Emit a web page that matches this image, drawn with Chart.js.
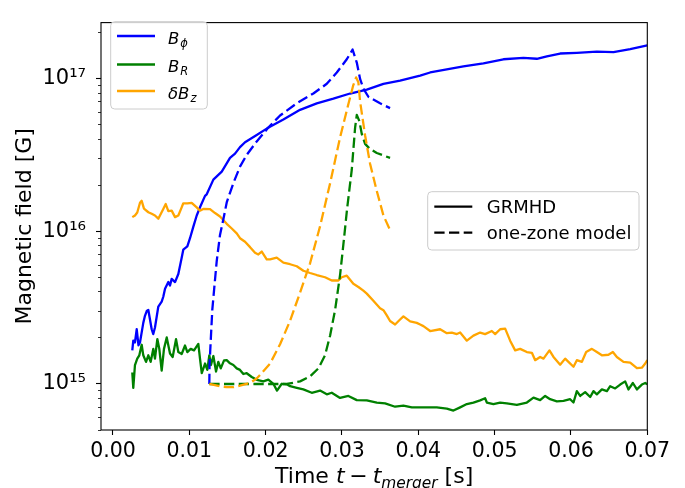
<!DOCTYPE html>
<html>
<head>
<meta charset="utf-8">
<script src="https://cdn.jsdelivr.net/npm/chart.js@4.4.1/dist/chart.umd.min.js"></script>
<style>
html,body{margin:0;padding:0;background:#fff;overflow:hidden}
#wrap{position:relative;width:685px;height:488px}
</style>
</head>
<body>
<div id="wrap"><canvas id="c" width="685" height="488"></canvas></div>
<script>
// ---------------- data ----------------
// GRMHD B_phi (solid blue)
const phiT = [0.00253,0.00266,0.00288,0.00311,0.00334,0.00354,0.00397,0.00419,0.00442,0.00463,0.00507,0.00528,0.00550,0.00594,0.00638,0.00659,0.00682,0.00725,0.00747,0.00769,0.00813,0.00856,0.00900,0.00921,0.00974,0.01009,0.01052,0.01097,0.01140,0.01206,0.01228,0.01315,0.01425,0.01490,0.01533,0.01599,0.01664,0.01730,0.01883,0.02014,0.02232,0.02451,0.02670,0.02887,0.03106,0.03325,0.03543,0.03761,0.04024,0.04155,0.04591,0.04853,0.05115,0.05377,0.05553,0.05684,0.05858,0.06077,0.06339,0.06557,0.06776,0.07000];
const phiB = [1.66e15,1.92e15,1.87e15,2.28e15,1.79e15,1.87e15,2.51e15,2.79e15,3.00e15,3.05e15,2.28e15,2.12e15,2.34e15,3.21e15,3.46e15,3.72e15,4.20e15,4.64e15,4.41e15,4.87e15,4.64e15,5.24e15,6.70e15,7.56e15,7.94e15,8.98e15,1.065e16,1.265e16,1.43e16,1.70e16,1.74e16,2.17e16,2.45e16,2.77e16,3.01e16,3.21e16,3.54e16,3.81e16,4.25e16,4.68e16,5.36e16,6.21e16,6.85e16,7.35e16,7.94e16,8.42e16,9.19e16,9.65e16,1.039e17,1.09e17,1.193e17,1.252e17,1.33e17,1.36e17,1.34e17,1.39e17,1.45e17,1.466e17,1.49e17,1.48e17,1.55e17,1.64e17];

// GRMHD B_R (solid green)
const rT = [0.00253,0.00266,0.00288,0.00318,0.00345,0.00376,0.00397,0.00433,0.00463,0.00494,0.00528,0.00550,0.00581,0.00607,0.00638,0.00668,0.00704,0.00747,0.00782,0.00826,0.00856,0.00900,0.00944,0.00974,0.01018,0.01062,0.01118,0.01140,0.01163,0.01206,0.01236,0.01262,0.01284,0.01315,0.01350,0.01380,0.01412,0.01455,0.01490,0.01533,0.01577,0.01621,0.01664,0.01708,0.01752,0.01818,0.01883,0.01970,0.02035,0.02101,0.02149,0.02211,0.02277,0.02320,0.02408,0.02494,0.02604,0.02713,0.02801,0.02866,0.02975,0.03084,0.03194,0.03325,0.03456,0.03565,0.03696,0.03805,0.03915,0.04067,0.04242,0.04374,0.04460,0.04548,0.04636,0.04722,0.04810,0.04875,0.04898,0.04984,0.05072,0.05160,0.05291,0.05422,0.05509,0.05596,0.05662,0.05727,0.05815,0.05902,0.05989,0.06033,0.06077,0.06121,0.06186,0.06252,0.06295,0.06339,0.06405,0.06471,0.06514,0.06579,0.06645,0.06710,0.06754,0.06811,0.06864,0.06929,0.06973,0.07000];
const rB = [1.188e15,9.43e14,1.33e15,1.465e15,1.54e15,1.805e15,1.54e15,1.396e15,1.54e15,1.396e15,1.697e15,1.465e15,1.966e15,1.697e15,1.223e15,1.697e15,2.016e15,1.581e15,1.502e15,1.966e15,1.617e15,1.57e15,1.784e15,1.617e15,1.697e15,1.658e15,1.827e15,1.465e15,1.176e15,1.361e15,1.236e15,1.54e15,1.33e15,1.524e15,1.205e15,1.396e15,1.265e15,1.427e15,1.431e15,1.365e15,1.33e15,1.265e15,1.236e15,1.162e15,1.176e15,1.111e15,1.064e15,1.04e15,1.067e15,1.003e15,9.05e14,1.003e15,9.96e14,9.67e14,9.43e14,9.21e14,8.76e14,9.05e14,8.56e14,8.76e14,8.10e14,8.35e14,7.84e14,7.81e14,7.56e14,7.47e14,7.10e14,7.21e14,7.03e14,7.03e14,7.03e14,6.90e14,6.70e14,7.03e14,7.39e14,7.56e14,7.81e14,8.07e14,7.56e14,7.39e14,7.56e14,7.47e14,7.31e14,7.56e14,8.14e14,7.84e14,8.35e14,7.95e14,7.70e14,7.76e14,7.95e14,7.56e14,8.98e14,8.35e14,8.85e14,8.22e14,8.98e14,8.56e14,9.21e14,8.98e14,9.67e14,9.35e14,9.91e14,1.04e15,9.21e14,1.015e15,9.21e14,9.91e14,1.015e15,9.96e14];

// GRMHD delta B_z (solid orange)
const zT = [0.00253,0.00288,0.00318,0.00354,0.00376,0.00406,0.00463,0.00507,0.00550,0.00594,0.00659,0.00691,0.00725,0.00769,0.00813,0.00856,0.00900,0.00921,0.00974,0.01031,0.01097,0.01140,0.01183,0.01271,0.01337,0.01402,0.01490,0.01556,0.01621,0.01664,0.01730,0.01796,0.01861,0.01904,0.01949,0.02014,0.02058,0.02145,0.02232,0.02320,0.02408,0.02494,0.02582,0.02670,0.02778,0.02866,0.02953,0.02997,0.03063,0.03106,0.03149,0.03215,0.03280,0.03325,0.03411,0.03499,0.03543,0.03587,0.03630,0.03696,0.03761,0.03805,0.03893,0.03980,0.04024,0.04067,0.04155,0.04286,0.04374,0.04439,0.04505,0.04548,0.04636,0.04722,0.04810,0.04875,0.04963,0.05007,0.05072,0.05138,0.05203,0.05269,0.05334,0.05422,0.05488,0.05531,0.05596,0.05640,0.05718,0.05771,0.05858,0.05924,0.05967,0.06033,0.06077,0.06143,0.06199,0.06274,0.06339,0.06405,0.06491,0.06549,0.06601,0.06688,0.06776,0.06864,0.06929,0.06973,0.07000];
const zB = [1.234e16,1.265e16,1.322e16,1.531e16,1.577e16,1.402e16,1.328e16,1.297e16,1.265e16,1.205e16,1.396e16,1.502e16,1.351e16,1.361e16,1.234e16,1.265e16,1.429e16,1.52e16,1.52e16,1.531e16,1.429e16,1.361e16,1.396e16,1.392e16,1.312e16,1.247e16,1.116e16,1.04e16,9.67e15,8.98e15,8.51e15,7.85e15,7.21e15,7.03e15,7.35e15,6.53e15,6.53e15,6.70e15,6.22e15,6.07e15,5.89e15,5.50e15,5.32e15,5.16e15,4.99e15,4.75e15,4.75e15,4.99e15,5.11e15,4.80e15,4.52e15,4.31e15,4.08e15,3.90e15,3.50e15,3.13e15,3.04e15,2.81e15,2.58e15,2.45e15,2.64e15,2.77e15,2.57e15,2.51e15,2.45e15,2.39e15,2.22e15,2.28e15,2.15e15,2.17e15,2.12e15,2.17e15,1.92e15,2.07e15,2.17e15,2.12e15,2.22e15,2.12e15,2.28e15,2.30e15,1.92e15,1.658e15,1.697e15,1.617e15,1.60e15,1.431e15,1.502e15,1.465e15,1.658e15,1.502e15,1.336e15,1.465e15,1.396e15,1.297e15,1.431e15,1.396e15,1.617e15,1.697e15,1.617e15,1.54e15,1.553e15,1.617e15,1.502e15,1.396e15,1.381e15,1.269e15,1.278e15,1.361e15,1.431e15];

// one-zone model B_phi (dashed blue)
const mPhiT = [0.01262,0.01265,0.01284,0.01301,0.01328,0.01359,0.01402,0.01446,0.01490,0.01533,0.01577,0.01664,0.01752,0.01883,0.02035,0.02189,0.02408,0.02625,0.02801,0.02932,0.03063,0.03139,0.03194,0.03237,0.03280,0.03346,0.03499,0.03630];
const mPhiB = [1.0e15,1.336e15,2.08e15,3.05e15,4.31e15,6.37e15,9.43e15,1.193e16,1.54e16,1.78e16,2.06e16,2.64e16,3.15e16,3.86e16,4.75e16,5.70e16,6.85e16,7.94e16,9.19e16,1.09e17,1.33e17,1.54e17,1.265e17,9.9e16,8.55e16,7.56e16,6.85e16,6.37e16];

// one-zone model B_R (dashed green)
const mRT = [0.01262,0.02277,0.02451,0.02582,0.02691,0.02778,0.02844,0.02910,0.02975,0.03018,0.03067,0.03128,0.03172,0.03194,0.03228,0.03260,0.03303,0.03368,0.03456,0.03630];
const mRB = [1.0e15,1.0e15,1.04e15,1.12e15,1.265e15,1.54e15,2.07e15,3.05e15,5.16e15,8.14e15,1.40e16,2.51e16,4.75e16,5.75e16,5.24e16,4.30e16,3.72e16,3.44e16,3.24e16,3.01e16];

// one-zone model delta B_z (dashed orange)
const mZT = [0.01262,0.01402,0.01490,0.01577,0.01664,0.01796,0.01883,0.01927,0.02058,0.02189,0.02320,0.02451,0.02582,0.02713,0.02844,0.02975,0.03080,0.03146,0.03185,0.03215,0.03237,0.03303,0.03368,0.03456,0.03543,0.03630];
const mZB = [1.0e15,9.67e14,9.53e14,9.53e14,9.74e14,1.015e15,1.087e15,1.148e15,1.36e15,1.82e15,2.59e15,3.96e15,6.16e15,1.076e16,2.05e16,4.10e16,6.66e16,8.93e16,1.012e17,9.4e16,7.06e16,4.22e16,2.76e16,1.83e16,1.265e16,1.015e16];

// axes
const xRange = [-0.00157, 0.07];
const yRange = [5e14, 2.31e17];
const xTickValues = [0.00,0.01,0.02,0.03,0.04,0.05,0.06,0.07];
const yMajorTicks = [1e15, 1e16, 1e17];
const yMajorLabels = ['10\u00B9\u2075', '10\u00B9\u2076', '10\u00B9\u2077'];
const yMinorTicks = [5e14,6e14,7e14,8e14,9e14,2e15,3e15,4e15,5e15,6e15,7e15,8e15,9e15,2e16,3e16,4e16,5e16,6e16,7e16,8e16,9e16,2e17];
const yTitle = 'Magnetic field [G]';

// legends
const compMain = ['B', 'B', '\u03B4B'];
const compSub = ['\u03D5', 'R', 'z'];
const modelLabels = ['GRMHD', 'one-zone model'];
const compColors = ['#0000ff', '#008000', '#ffa500'];

// ---------------- chart ----------------
const FAM = "'DejaVu Sans'";
Chart.defaults.font.family = FAM;
Chart.defaults.color = '#000';

const toPts = (t, b) => t.map((v, i) => ({x: v, y: b[i]}));
const DASH = [10.3, 4.4];
const LW = 2.3;
function ds(t, b, color, dashed) {
  return {data: toPts(t, b), borderColor: color, backgroundColor: color, borderWidth: LW,
    borderDash: dashed ? DASH : [], pointRadius: 0, fill: false, tension: 0,
    borderJoinStyle: 'round', borderCapStyle: 'butt'};
}
const datasets = [
  ds(phiT, phiB, compColors[0], false),
  ds(rT, rB, compColors[1], false),
  ds(zT, zB, compColors[2], false),
  ds(mPhiT, mPhiB, compColors[0], true),
  ds(mRT, mRB, compColors[1], true),
  ds(mZT, mZB, compColors[2], true)
];
datasets.forEach((d, i) => { d.order = datasets.length - i; });

function roundRect(ctx, x, y, w, h, r) {
  ctx.beginPath();
  ctx.moveTo(x + r, y);
  ctx.lineTo(x + w - r, y); ctx.arcTo(x + w, y, x + w, y + r, r);
  ctx.lineTo(x + w, y + h - r); ctx.arcTo(x + w, y + h, x + w - r, y + h, r);
  ctx.lineTo(x + r, y + h); ctx.arcTo(x, y + h, x, y + h - r, r);
  ctx.lineTo(x, y + r); ctx.arcTo(x, y, x + r, y, r);
  ctx.closePath();
}

const decor = {
  id: 'decor',
  afterDatasetsDraw(chart) {
    const {ctx, chartArea: a} = chart;
    ctx.save();
    ctx.strokeStyle = '#000';
    ctx.lineWidth = 1.1;
    ctx.strokeRect(a.left, a.top, a.right - a.left, a.bottom - a.top);
    ctx.restore();
  },
  afterDraw(chart) {
    const {ctx, chartArea: a} = chart;
    ctx.save();
    ctx.fillStyle = '#000';
    ctx.textBaseline = 'alphabetic';
    ctx.textAlign = 'left';

    // ---- x axis title: Time t − t_merger [s]
    const F = 22;
    const segs = [
      {text: 'Time ', font: `${F}px ${FAM}`},
      {text: 't', font: `italic ${F}px ${FAM}`, gap: 0.22 * F},
      {text: '\u2212', font: `${F}px ${FAM}`, gap: 0.22 * F},
      {text: 't', font: `italic ${F}px ${FAM}`},
      {text: 'merger', font: `italic ${(F * 0.7).toFixed(1)}px ${FAM}`, dy: 5},
      {text: ' [s]', font: `${F}px ${FAM}`}
    ];
    let total = 0;
    segs.forEach(s => { ctx.font = s.font; s.w = ctx.measureText(s.text).width + (s.gap || 0); total += s.w; });
    let x = (a.left + a.right) / 2 - total / 2;
    const base = a.bottom + 53;
    segs.forEach(s => { ctx.font = s.font; ctx.fillText(s.text, x, base + (s.dy || 0)); x += s.w; });

    // ---- legend 1 (components)
    ctx.fillStyle = 'rgba(255,255,255,0.8)';
    ctx.strokeStyle = '#cccccc';
    ctx.lineWidth = 1;
    roundRect(ctx, 110.7, 21.7, 96.6, 87.3, 4);
    ctx.fill(); ctx.stroke();
    const rowY = [36, 64.5, 91];
    const rowBase = [44, 72.3, 98.6];
    const FL = 16.5;
    for (let i = 0; i < 3; i++) {
      ctx.strokeStyle = compColors[i];
      ctx.lineWidth = LW;
      ctx.setLineDash([]);
      ctx.beginPath(); ctx.moveTo(117, rowY[i]); ctx.lineTo(155, rowY[i]); ctx.stroke();
      ctx.fillStyle = '#000';
      ctx.font = `italic ${FL}px ${FAM}`;
      ctx.fillText(compMain[i], 168, rowBase[i]);
      const w = ctx.measureText(compMain[i]).width;
      ctx.font = `italic ${(FL * 0.7).toFixed(1)}px ${FAM}`;
      ctx.fillText(compSub[i], 168 + w + 1, rowBase[i] + 3);
    }

    // ---- legend 2 (GRMHD vs model)
    ctx.fillStyle = 'rgba(255,255,255,0.8)';
    ctx.strokeStyle = '#cccccc';
    ctx.lineWidth = 1;
    roundRect(ctx, 427.7, 191.7, 211.3, 58.3, 4);
    ctx.fill(); ctx.stroke();
    const r2Y = [206.7, 232.7];
    for (let i = 0; i < 2; i++) {
      ctx.strokeStyle = '#000';
      ctx.lineWidth = LW;
      ctx.setLineDash(i === 0 ? [] : DASH);
      ctx.beginPath(); ctx.moveTo(434.3, r2Y[i]); ctx.lineTo(472.3, r2Y[i]); ctx.stroke();
      ctx.setLineDash([]);
      ctx.fillStyle = '#000';
      ctx.font = `18px ${FAM}`;
      ctx.fillText(modelLabels[i], 486.7, r2Y[i] + 6.7);
    }
    ctx.restore();
  }
};

const isMajorY = c => c && c.tick && yMajorTicks.includes(c.tick.value);

new Chart(document.getElementById('c'), {
  type: 'line',
  data: {datasets},
  options: {
    responsive: false,
    devicePixelRatio: 1,
    animation: false,
    events: [],
    layout: {padding: {left: 0, right: 37.7, top: 12.3, bottom: 0}},
    plugins: {legend: {display: false}, tooltip: {enabled: false}, title: {display: false}},
    scales: {
      x: {
        type: 'linear', min: xRange[0], max: xRange[1],
        afterFit(s) { s.height = 58; },
        afterBuildTicks(s) { s.ticks = xTickValues.map(v => ({value: v})); },
        ticks: {callback: v => Number(v).toFixed(2), font: {size: 20.5}, color: '#000', padding: 4,
                autoSkip: false, maxRotation: 0, minRotation: 0},
        grid: {display: true, drawOnChartArea: false, drawTicks: true, tickLength: 5,
               tickColor: '#000', tickWidth: 1.1},
        border: {display: false}
      },
      y: {
        type: 'logarithmic', min: yRange[0], max: yRange[1],
        afterFit(s) { s.width = 101; },
        afterBuildTicks(s) {
          s.ticks = yMinorTicks.concat(yMajorTicks).sort((p, q) => p - q).map(v => ({value: v}));
        },
        ticks: {
          callback: v => { const i = yMajorTicks.indexOf(v); return i >= 0 ? yMajorLabels[i] : ''; },
          font: {size: 21}, color: '#000', padding: 10, autoSkip: false, major: {enabled: false}
        },
        grid: {display: true, drawOnChartArea: false, drawTicks: true, tickLength: 5, tickColor: '#000',
               tickWidth: c => isMajorY(c) ? 1.1 : 0.8,
               tickBorderDash: c => isMajorY(c) ? [] : [0, 2, 3, 20]},
        border: {display: false},
        title: {display: true, text: yTitle, font: {size: 22}, color: '#000', padding: {top: 12, bottom: 0}}
      }
    }
  },
  plugins: [decor]
});
</script>
</body>
</html>
